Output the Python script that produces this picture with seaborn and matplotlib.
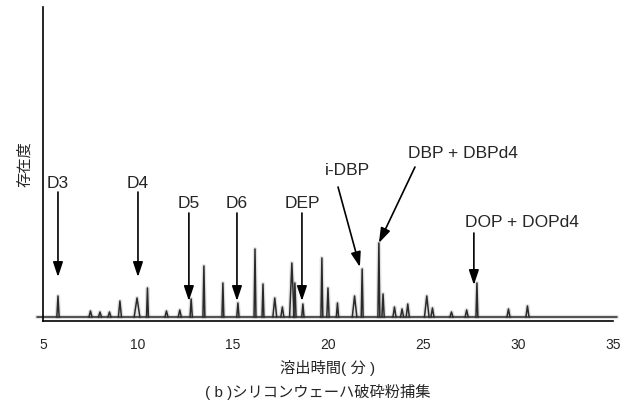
import matplotlib
matplotlib.use("Agg")
import matplotlib.pyplot as plt
import seaborn as sns
import pandas as pd

# retention time (min), peak height, peak half-width (min)
peak_rt = [5.79, 7.5, 8.0, 8.5, 9.05, 9.95, 10.5, 11.5, 12.2, 12.8, 13.47, 14.47,
           15.26, 16.16, 16.58, 17.2, 17.6, 18.1, 18.26, 18.68, 19.68, 20.0,
           20.5, 21.4, 21.8, 22.68, 22.9, 23.5, 23.9, 24.2, 25.2, 25.5, 26.5,
           27.3, 27.84, 29.5, 30.5]
peak_height = [21, 6, 5, 5, 16, 19, 29, 6, 7, 18, 51, 34,
               14, 68, 33, 19, 10, 54, 34, 13, 59, 29,
               14, 21, 48, 74, 23, 10, 8, 13, 21, 9, 5,
               7, 34, 8, 11]
peak_width = [0.06, 0.08, 0.08, 0.08, 0.08, 0.15, 0.05, 0.08, 0.08, 0.06, 0.05, 0.05,
              0.06, 0.05, 0.05, 0.1, 0.08, 0.12, 0.06, 0.06, 0.05, 0.06,
              0.06, 0.12, 0.05, 0.05, 0.06, 0.08, 0.08, 0.08, 0.12, 0.08, 0.08,
              0.08, 0.05, 0.08, 0.08]
baseline = 4

# annotations: label, text position, arrow tail, arrow tip
ann_labels = ["D3", "D4", "D5", "D6", "DEP", "i-DBP", "DBP + DBPd4", "DOP + DOPd4"]
ann_text_xy = [(5.79, 138), (10.0, 138), (12.68, 118), (15.21, 118), (18.63, 118),
               (21.0, 151), (27.1, 168), (30.2, 99)]
ann_tail_xy = [(5.79, 129), (10.0, 129), (12.68, 108), (15.21, 108), (18.63, 108),
               (20.53, 134), (24.58, 154), (27.68, 88)]
ann_tip_xy = [(5.79, 44), (10.0, 44), (12.68, 20), (15.21, 20), (18.63, 20),
              (21.68, 54), (22.68, 78), (27.68, 36)]

xticks = [5, 10, 15, 20, 25, 30, 35]

rows = [{"rt": 4.7, "signal": baseline, "unit": -1},
        {"rt": 35.2, "signal": baseline, "unit": -1}]
for i, (rt, h, w) in enumerate(zip(peak_rt, peak_height, peak_width)):
    rows.append({"rt": rt - w, "signal": baseline, "unit": i})
    rows.append({"rt": rt, "signal": baseline + h, "unit": i})
    rows.append({"rt": rt + w, "signal": baseline, "unit": i})
df = pd.DataFrame(rows)

sns.set_style("white")
plt.rcParams["font.family"] = ["Liberation Sans", "Noto Sans CJK JP"]

fig = plt.figure(figsize=(6.31, 4.12), dpi=100)
ax = fig.add_axes([0.0681, 0.2209, 0.9033, 0.762])

# soft halo, as in the scanned original
sns.lineplot(data=df, x="rt", y="signal", units="unit", estimator=None, sort=False,
             color="#888888", linewidth=3.0, alpha=0.25, ax=ax, clip_on=False)
sns.lineplot(data=df, x="rt", y="signal", units="unit", estimator=None, sort=False,
             color="#2a2a2a", linewidth=1.1, ax=ax, clip_on=False)

for lab, txy, tail, tip in zip(ann_labels, ann_text_xy, ann_tail_xy, ann_tip_xy):
    ax.text(txy[0], txy[1], lab, ha="center", va="center", fontsize=12.5)
    ax.annotate("", xy=tip, xytext=tail,
                arrowprops=dict(arrowstyle="-|>,head_length=0.9,head_width=0.3",
                                color="black", lw=1.2, shrinkA=0, shrinkB=0))

ax.set_xlim(5, 35)
ax.set_ylim(0, 314)
ax.set_xticks(xticks)
ax.set_xticklabels([str(t) for t in xticks], fontsize=10)
ax.set_yticks([])
ax.tick_params(axis="x", length=0, pad=12)
for s in ["top", "right"]:
    ax.spines[s].set_visible(False)
for s in ["left", "bottom"]:
    ax.spines[s].set_color("black")
    ax.spines[s].set_linewidth(1.2)
ax.set_xlabel("溶出時間( 分 )", fontsize=11, labelpad=6)
ax.set_ylabel("存在度", fontsize=11, labelpad=8)

fig.text(0.504, 0.048, "( b )シリコンウェーハ破砕粉捕集", ha="center", va="center", fontsize=11)

fig.savefig("out.png", dpi=100)
